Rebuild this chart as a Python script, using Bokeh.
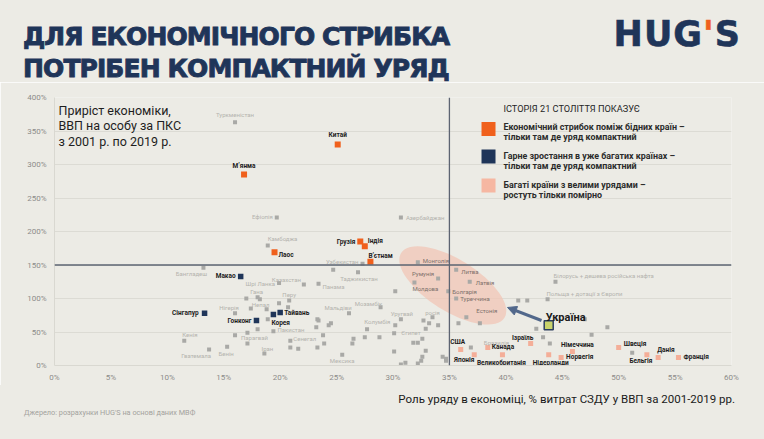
from bokeh.plotting import figure
from bokeh.layouts import column
from bokeh.models import (Label, Span, Arrow, NormalHead, ColumnDataSource, Div,
                          FixedTicker, PrintfTickFormatter)
from bokeh.core.properties import value
from bokeh.embed import file_html
from bokeh.resources import INLINE

# ---------------- data (x: government spending % GDP, y: GDP pc PPP growth %) ----------------
orange_names = ["Китай", "М’янма", "Грузія", "Індія", "В’єтнам", "Лаос"]
orange_gov = [25.1, 16.8, 27.1, 27.5, 28.0, 19.5]
orange_growth = [330, 285, 185, 178, 155, 169]

navy_names = ["Макао", "Сінгапур", "Гонконг", "Тайвань", "Корея"]
navy_gov = [16.5, 13.3, 17.9, 20.0, 19.4]
navy_growth = [133, 78, 67, 79, 76]

pink_names = ["США", "Японія", "Канада", "Великобританія", "Ізраїль", "Нідерланди",
              "Німеччина", "Норвегія", "Швеція", "Данія", "Бельгія", "Франція"]
pink_gov = [36.0, 37.2, 38.4, 39.7, 42.2, 43.8, 45.9, 44.9, 50.0, 53.5, 52.5, 55.3]
pink_growth = [24, 16, 27, 16, 33, 16, 21, 12, 27, 12, 16, 12]

ellipse_names = ["Монголія", "Румунія", "Молдова", "Литва", "Латвія", "Болгарія", "Туреччина", "Естонія"]
ellipse_gov = [32.2, 34.0, 31.9, 35.6, 36.8, 34.9, 35.6, 36.5]
ellipse_growth = [154, 130, 124, 143, 125, 111, 100, 72]

grey_names = ["Туркменістан", "Ефіопія", "Азербайджан", "Камбоджа", "Бангладеш", "Узбекистан",
              "Таджикистан", "Шрі Ланка", "Казахстан", "Панама", "Гана", "Перу", "Непал",
              "Нігерія", "Кенія", "Гватемала", "Бенін", "Парагвай", "Пакистан", "Сенегал",
              "Іран", "Мексика", "Мальдіви", "Мозамбік", "Уругвай", "росія", "Колумбія",
              "Єгипет", "Бразилія", "Білорусь + дешева російська нафта", "Польща + дотації з Європи"]
grey_gov = [16.0, 19.7, 30.7, 18.9, 13.2, 27.3, 26.9, 19.9, 22.1, 23.4, 18.0, 20.8, 18.8,
            16.0, 11.5, 13.7, 15.3, 16.0, 19.4, 20.9, 18.6, 25.5, 26.1, 28.9, 30.7, 33.5, 30.2,
            30.1, 36.9, 44.4, 43.7]
grey_growth = [363, 221, 221, 179, 146, 152, 139, 123, 121, 122, 102, 97, 84,
               78, 37, 24, 28, 45, 51, 37, 18, 16, 78, 87, 69, 72, 60,
               48, 27, 125, 99]

other_gov = [24.7, 30.2, 17.0, 18.2, 17.4, 19.9, 20.7, 23.3, 24.3, 24.5, 18.9, 18.0, 17.1, 17.1,
             20.9, 21.6, 23.3, 23.9, 23.4, 23.2, 23.8, 26.5, 27.5, 28.8, 26.4, 27.7, 30.1, 31.8,
             32.2, 32.6, 32.9, 32.7, 33.2, 34.0, 32.9, 32.6, 32.5, 31.1, 30.7, 32.2, 34.4, 34.7,
             41.1, 41.9, 37.7, 35.8, 42.7, 43.3, 34.7, 47.0, 47.6, 49.0, 43.9, 51.2]
other_growth = [143, 111, 100, 99, 85, 93, 87, 69, 60, 63, 69, 54, 49, 33,
                27, 25, 27, 33, 67, 57, 45, 40, 42, 42, 33, 54, 21, 34,
                34, 40, 55, 67, 63, 60, 22, 13, 7, 4, 1.5, 3, 13, 7,
                97, 97, 63, 63, 55, 42, 10, 69, 46, 57, 33, 19]

ukraine_gov = [43.8]
ukraine_growth = [60]

cluster_gov = [35.3]
cluster_growth = [119.5]

x_ticks = [0, 5, 10, 15, 20, 25, 30, 35, 40, 45, 50, 55, 60]
y_ticks = [0, 50, 100, 150, 200, 250, 300, 350, 400]

# ---------------- label placement (screen px offsets, alignment) ----------------
LBL = {
    "Китай": (0, -9, "center"), "М’янма": (0, -9, "center"), "Грузія": (-5, 0, "right"),
    "Індія": (3, -5, "left"), "В’єтнам": (-2, -6, "left"), "Лаос": (4, 3, "left"),
    "Макао": (-5, 0, "right"), "Сінгапур": (-6, 0, "right"), "Гонконг": (-5, 0, "right"),
    "Тайвань": (4, 0, "left"), "Корея": (-2, 8, "left"),
    "США": (-3, -7, "center"), "Японія": (-10, 5, "center"), "Канада": (4, 0, "left"),
    "Великобританія": (-1, 8, "center"), "Ізраїль": (-8, -5, "center"),
    "Нідерланди": (2, 8, "center"), "Німеччина": (5, -6, "center"), "Норвегія": (5, 0, "left"),
    "Швеція": (5, -3, "left"), "Данія": (-1, -7, "left"), "Бельгія": (-6, 6, "center"),
    "Франція": (5, 0, "left"),
    "Монголія": (5, -2, "left"), "Румунія": (-4, -5, "right"), "Молдова": (-2, 6, "left"),
    "Литва": (5, 2, "left"), "Латвія": (6, 1, "left"), "Болгарія": (4, 0, "left"),
    "Туреччина": (4, 0, "left"), "Естонія": (10, -7, "left"),
    "Туркменістан": (0, -8, "center"), "Ефіопія": (-4, -1, "right"), "Азербайджан": (5, 0, "left"),
    "Камбоджа": (0, -7, "left"), "Бангладеш": (-12, 6, "center"), "Узбекистан": (-4, -2, "right"),
    "Таджикистан": (1, 6, "center"), "Шрі Ланка": (-4, 0, "right"), "Казахстан": (-3, -5, "right"),
    "Панама": (4, 3, "left"), "Гана": (-1, -6, "center"), "Перу": (0, -6, "center"),
    "Непал": (-6, -5, "center"), "Нігерія": (-6, -6, "center"), "Кенія": (-2, -6, "left"),
    "Гватемала": (-13, 6, "center"), "Бенін": (-1, 7, "center"), "Парагвай": (6, 2, "left"),
    "Пакистан": (4, -2, "left"), "Сенегал": (3, -2, "left"), "Іран": (3, -5, "center"),
    "Мексика": (0, 6, "center"), "Мальдіви": (-11, -6, "center"), "Мозамбік": (-12, -4, "center"),
    "Уругвай": (1, -6, "center"), "росія": (0, -5, "center"), "Колумбія": (-5, -4, "right"),
    "Єгипет": (7, -1, "left"), "Бразилія": (13, -5, "left"),
    "Білорусь + дешева російська нафта": (-2, -6, "left"),
    "Польща + дотації з Європи": (-1, -6, "left"),
}

BG = "#ecebe5"
NAVY = "#1f3559"
ORANGE = "#f0601c"
PINK = "#f4ae98"
GREY = "#a9a9a6"
FONT = "Roboto"

PAGE_W = 764
HEADER_H = 82
FOOTER_H = 54
p = figure(frame_width=677, frame_height=268, x_range=(0, 60), y_range=(0, 400),
           output_backend="svg", toolbar_location=None,
           min_border_left=54, min_border_right=33, min_border_top=15, min_border_bottom=20)
p.background_fill_color = BG
p.border_fill_color = BG
p.outline_line_color = None

for ax in (p.xaxis[0], p.yaxis[0]):
    ax.major_tick_line_color = None
    ax.minor_tick_line_color = None
    ax.major_tick_out = 0
    ax.major_tick_in = 0
    ax.minor_tick_out = 0
    ax.axis_line_color = "#d9d8d1"
    ax.major_label_text_font = FONT
    ax.major_label_text_font_size = "8px"
    ax.major_label_text_color = "#8c8c8a"
p.xaxis[0].ticker = FixedTicker(ticks=x_ticks)
p.yaxis[0].ticker = FixedTicker(ticks=y_ticks)
p.xaxis[0].formatter = PrintfTickFormatter(format="%d%%")
p.yaxis[0].formatter = PrintfTickFormatter(format="%d%%")
p.xaxis[0].major_label_standoff = 7
p.yaxis[0].major_label_standoff = 8
p.xgrid.visible = False
p.ygrid.ticker = FixedTicker(ticks=y_ticks)
p.ygrid.grid_line_color = "#dcdbd4"
p.ygrid.grid_line_width = 1


# page-pixel helper for annotation placement inside the frame (layout only)
def P(px, py):
    return (px - 54) / 11.283, (365 - py) / 0.67


p.ellipse(x=cluster_gov, y=cluster_growth, width=122, height=52, angle=-0.56,
          width_units="screen", height_units="screen",
          fill_color="#f2c6b6", fill_alpha=0.75, line_color=None)

p.add_layout(Span(location=150, dimension="width", line_color="#5d6472", line_width=1.3))
p.add_layout(Span(location=35, dimension="height", line_color="#5d6472", line_width=1.3))

p.scatter(other_gov, other_growth, marker="square", size=4, fill_color=GREY, line_color=None)
p.scatter(grey_gov, grey_growth, marker="square", size=4, fill_color=GREY, line_color=None)
p.scatter(ellipse_gov, ellipse_growth, marker="square", size=4, fill_color=GREY, line_color=None)
p.scatter(pink_gov, pink_growth, marker="square", size=5, fill_color=PINK, line_color=None)
p.scatter(navy_gov, navy_growth, marker="square", size=5.5, fill_color=NAVY, line_color=None)
p.scatter(orange_gov, orange_growth, marker="square", size=6, fill_color=ORANGE, line_color=None)


def add_labels(names, xs, ys, color, size, style):
    groups = {}
    for n, x, y in zip(names, xs, ys):
        dx, dy, al = LBL[n]
        g = groups.setdefault(al, {"x": [], "y": [], "t": [], "dx": [], "dy": []})
        g["x"].append(x); g["y"].append(y); g["t"].append(n)
        g["dx"].append(dx); g["dy"].append(dy)
    for al, d in groups.items():
        p.text(x="x", y="y", text="t", x_offset="dx", y_offset="dy",
               source=ColumnDataSource(d), text_align=al, text_baseline="middle",
               text_font=value(FONT), text_font_size=size, text_color=color,
               text_font_style=style)


add_labels(grey_names, grey_gov, grey_growth, "#b4b3ae", "6px", "normal")
add_labels(ellipse_names, ellipse_gov, ellipse_growth, "#7d6f6a", "6px", "normal")
add_labels(orange_names, orange_gov, orange_growth, "#1c1c1c", "6.5px", "bold")
add_labels(navy_names, navy_gov, navy_growth, "#1c1c1c", "6.5px", "bold")
add_labels(pink_names, pink_gov, pink_growth, "#1c1c1c", "6.5px", "bold")

ARROW = "#52688b"
p.add_layout(Arrow(end=NormalHead(size=9, fill_color=ARROW, line_color=ARROW),
                   x_start=ukraine_gov[0] - 0.64, y_start=ukraine_growth[0] + 7.2,
                   x_end=ukraine_gov[0] - 3.65, y_end=ukraine_growth[0] + 26.6,
                   line_color=ARROW, line_width=3))
p.scatter(ukraine_gov, ukraine_growth, marker="square", size=9, fill_color="#c9d36b",
          line_color="#2c3e5f", line_width=1.5)
p.text(x=ukraine_gov, y=ukraine_growth, text=["Україна"], x_offset=-3, y_offset=-8,
       text_align="left", text_baseline="middle", text_font=value(FONT),
       text_font_size="11px", text_font_style="bold", text_color="#1a1a1a")


def lab(px, py, text, size, color, style="normal", align="left"):
    x, y = P(px, py)
    p.add_layout(Label(x=x, y=y, text=text, text_font=FONT, text_font_size=size,
                       text_color=color, text_font_style=style, text_align=align,
                       text_baseline="alphabetic"))


lab(58, 109.5, "Приріст економіки,", "12.5px", "#1e1e1e")
lab(58, 125, "ВВП на особу за ПКС", "12.5px", "#1e1e1e")
lab(58, 140.5, "з 2001 р. по 2019 р.", "12.5px", "#1e1e1e")

lab(503, 108, "ІСТОРІЯ 21 СТОЛІТТЯ ПОКАЗУЄ", "9.2px", "#262626")
legend_colors = [ORANGE, NAVY, "#f6b7a2"]
legend_rows = [("Економічний стрибок поміж бідних країн –", "тільки там де уряд компактний"),
               ("Гарне зростання в уже багатих країнах –", "тільки там де уряд компактний"),
               ("Багаті країни з велими урядами –", "ростуть тільки помірно")]
sq_y = [128.5, 156, 185]
base_y = [126, 155, 184]
for c, (l1, l2), sy, by in zip(legend_colors, legend_rows, sq_y, base_y):
    sx, syd = P(488, sy)
    p.scatter([sx], [syd], marker="square", size=14, fill_color=c, line_color=None)
    lab(503, by, l1, "8.9px", "#2b2b2b", "bold")
    lab(503, by + 10, l2, "8.9px", "#2b2b2b", "bold")

title_css = (f"position:absolute;left:23px;font-family:'DejaVu Sans';font-weight:bold;"
             f"font-size:25px;line-height:25px;letter-spacing:-0.9px;color:{NAVY};"
             f"-webkit-text-stroke:0.9px {NAVY};white-space:nowrap;")
header_html = f"""
<div style="position:relative;width:{PAGE_W}px;height:{HEADER_H}px;background:{BG};">
  <div style="{title_css}top:24px;">ДЛЯ ЕКОНОМІЧНОГО СТРИБКА</div>
  <div style="{title_css}top:56px;">ПОТРІБЕН КОМПАКТНИЙ УРЯД</div>
  <div style="position:absolute;right:23px;top:17px;font-family:'DejaVu Sans';font-weight:bold;
       font-size:35px;line-height:35px;letter-spacing:1px;color:{NAVY};
       -webkit-text-stroke:0.6px {NAVY};white-space:nowrap;">HUG<span style="color:{ORANGE};-webkit-text-stroke:0.6px {ORANGE};">'</span>S</div>
</div>"""
header = Div(text=header_html, width=PAGE_W, height=HEADER_H, margin=(0, 0, 0, 0))

footer_html = f"""
<div style="position:relative;width:{PAGE_W}px;height:{FOOTER_H}px;background:{BG};">
  <div style="position:absolute;right:29px;top:8px;font-family:Roboto;font-size:11.5px;
       line-height:12px;color:#1a1a1a;white-space:nowrap;">Роль уряду в економіці, % витрат СЗДУ у ВВП за 2001-2019 рр.</div>
  <div style="position:absolute;left:24px;top:23.5px;font-family:Roboto;font-size:7.3px;
       line-height:8px;color:#a3a29d;white-space:nowrap;">Джерело: розрахунки HUG'S на основі даних МВФ</div>
</div>"""
footer = Div(text=footer_html, width=PAGE_W, height=FOOTER_H, margin=(0, 0, 0, 0))

layout = column(header, p, footer, spacing=0)
html = file_html(layout, INLINE)
html = html.replace("<body>", '<body style="background:%s">' % BG, 1)
open("out.html", "w").write(html)
